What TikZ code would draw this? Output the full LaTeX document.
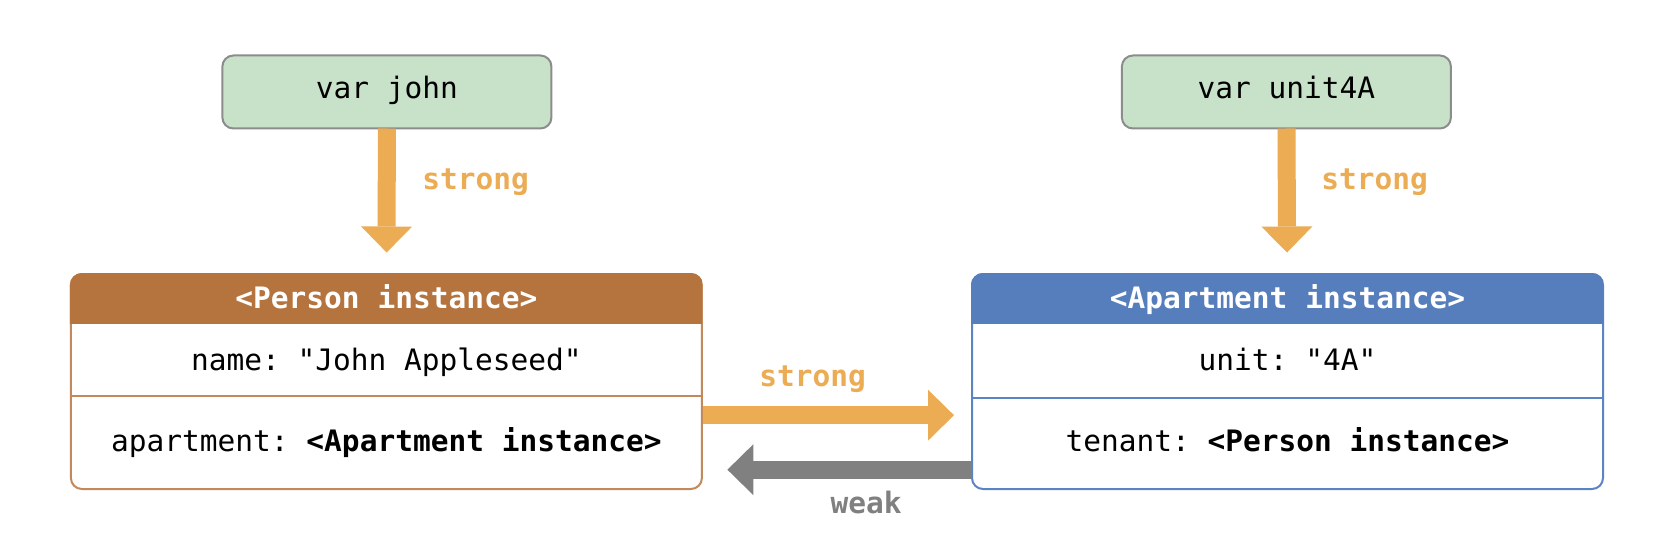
\documentclass[tikz,border=0pt]{standalone}
\usepackage{fontspec}
\setmonofont{DejaVu Sans Mono}
\usetikzlibrary{arrows.meta}
\definecolor{varfill}{HTML}{C8E2C9}
\definecolor{varline}{HTML}{8C8C8C}
\definecolor{strongc}{HTML}{EBAC54}
\definecolor{weakc}{HTML}{808080}
\definecolor{perhdr}{HTML}{B5743E}
\definecolor{perline}{HTML}{C2895A}
\definecolor{apthdr}{HTML}{567EBC}
\definecolor{aptline}{HTML}{5B84C5}
\begin{document}
\begin{tikzpicture}[x=1pt,y=-1pt,
  mono/.style={font=\ttfamily\fontsize{29.5}{35}\selectfont, inner sep=0pt, anchor=base},
  monob/.style={font=\ttfamily\bfseries\fontsize{29.5}{35}\selectfont, inner sep=0pt, anchor=base},
  varbox/.style={draw=varline, fill=varfill, line width=2pt, rounded corners=11pt,
    minimum width=329pt, minimum height=73pt, inner sep=0pt, outer sep=0pt},
  instbox/.style={line width=2pt, rounded corners=11pt, minimum width=631pt,
    minimum height=215pt, inner sep=0pt, outer sep=0pt},
  strongarrow/.style={draw=strongc, line width=18pt,
    -{Triangle[width=51pt,length=26pt,line width=0pt]}},
  weakarrow/.style={draw=weakc, line width=18pt,
    -{Triangle[width=51pt,length=26pt,line width=0pt]}},
  stronglbl/.style={monob, text=strongc},
  weaklbl/.style={monob, text=weakc}
]
\useasboundingbox[fill=white] (0,0) rectangle (1678,548);

% variable boxes
\node[varbox] (john) at (386.9,92) {};
\node[mono] (johnt) at (386.9,99) {var john};
\node[varbox] (unit) at (1286.4,92) {};
\node[mono] (unitt) at (1286.4,99) {var unit4A};

% Person instance
\node[instbox, draw=perline] (person) at (386.4,381.5) {};
\coordinate (ph) at (0,323.2);
\coordinate (pd) at (0,396);
\begin{scope}
  \clip ([shift={(-4pt,4pt)}]person.north west) rectangle (person.east |- ph);
  \filldraw[fill=perhdr, draw=perhdr, line width=2pt, rounded corners=11pt]
    (person.south west) rectangle (person.north east);
\end{scope}
\draw[perline, line width=2pt] (person.west |- pd) -- (person.east |- pd);
\node[monob, text=white] (persont) at (386.4,308) {<Person instance>};
\node[mono] (pname) at (386.4,370) {name: "John Appleseed"};
\node[mono] (papt) at (386.4,451.5) {apartment: \textbf{<Apartment instance>}};

% Apartment instance
\node[instbox, draw=aptline] (apt) at (1287.5,381.5) {};
\coordinate (ah) at (0,323.2);
\coordinate (ad) at (0,398);
\begin{scope}
  \clip ([shift={(-4pt,4pt)}]apt.north west) rectangle (apt.east |- ah);
  \filldraw[fill=apthdr, draw=apthdr, line width=2pt, rounded corners=11pt]
    (apt.south west) rectangle (apt.north east);
\end{scope}
\draw[aptline, line width=2pt] (apt.west |- ad) -- (apt.east |- ad);
\node[monob, text=white] (aptt) at (1287.5,308) {<Apartment instance>};
\node[mono] (aunit) at (1287.5,370) {unit: "4A"};
\node[mono] (aten) at (1287.5,451.5) {tenant: \textbf{<Person instance>}};

% arrows
\draw[strongarrow, shorten >=21.5pt] (john) -- (person);
\draw[strongarrow, shorten >=21.5pt] (unit) -- (apt);
\draw[strongarrow, shorten <=1pt, shorten >=18pt]
  ([yshift=-33.7pt]person.east) -- ([yshift=-33.7pt]apt.west);
\draw[weakarrow, shorten <=1pt, shorten >=25.5pt]
  ([yshift=-88.2pt]apt.west) -- ([yshift=-88.2pt]person.east);

% labels
\node[stronglbl] (l1) at (475.7,189.5) {strong};
\node[stronglbl] (l2) at (1374.7,189.5) {strong};
\node[stronglbl] (l3) at (812.7,386) {strong};
\node[weaklbl] (l4) at (866.2,513) {weak};
\end{tikzpicture}
\end{document}
